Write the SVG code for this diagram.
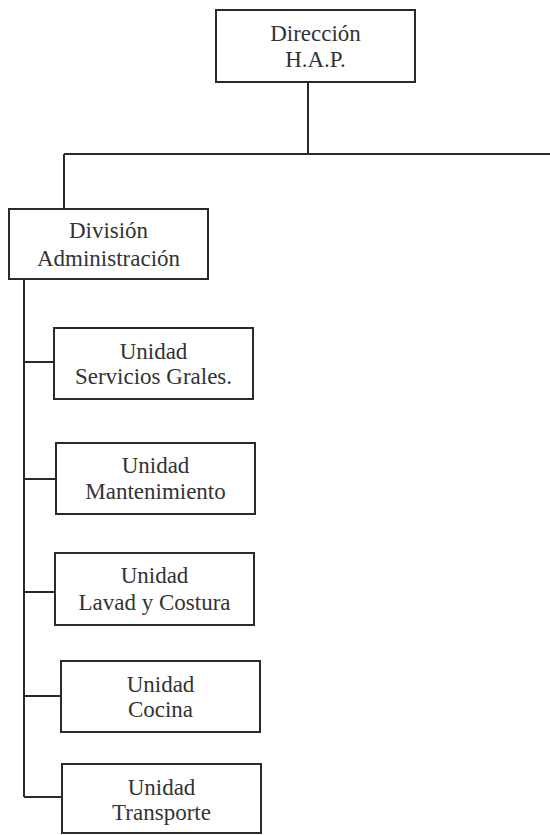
<svg xmlns="http://www.w3.org/2000/svg" width="550" height="835" viewBox="0 0 550 835">
<style>
.box{fill:#fff;stroke:#2a2a2a;stroke-width:2}
.ln{fill:none;stroke:#2a2a2a;stroke-width:2}
text{font-family:"Liberation Serif","Times New Roman",serif;font-size:23px;fill:#333;text-anchor:middle}
</style>
<rect width="550" height="835" fill="#fff"/>
<g id="connectors">
<path class="ln" d="M308,82 V154 M64,154 H550 M64,154 V209 M24,279 V797"/>
<path class="ln" d="M24,362 H54 M24,479 H56 M24,592 H55 M24,696 H61 M24,797 H62"/>
</g>
<g id="direccion">
<rect class="box" x="216" y="10" width="199" height="72"/>
<text x="315.5" y="41">Dirección</text>
<text x="315.5" y="67">H.A.P.</text>
</g>
<g id="division">
<rect class="box" x="9" y="209" width="199" height="70"/>
<text x="108.5" y="238">División</text>
<text x="108.5" y="266">Administración</text>
</g>
<g id="servicios">
<rect class="box" x="54" y="328" width="199" height="71"/>
<text x="153.5" y="359">Unidad</text>
<text x="153.5" y="384">Servicios Grales.</text>
</g>
<g id="mantenimiento">
<rect class="box" x="56" y="443" width="199" height="71"/>
<text x="155.5" y="473">Unidad</text>
<text x="155.5" y="499">Mantenimiento</text>
</g>
<g id="lavado">
<rect class="box" x="55" y="553" width="199" height="72"/>
<text x="154.5" y="583">Unidad</text>
<text x="154.5" y="610">Lavad y Costura</text>
</g>
<g id="cocina">
<rect class="box" x="61" y="661" width="199" height="71"/>
<text x="160.5" y="692">Unidad</text>
<text x="160.5" y="717">Cocina</text>
</g>
<g id="transporte">
<rect class="box" x="62" y="764" width="199" height="69"/>
<text x="161.5" y="795">Unidad</text>
<text x="161.5" y="820">Transporte</text>
</g>
</svg>
